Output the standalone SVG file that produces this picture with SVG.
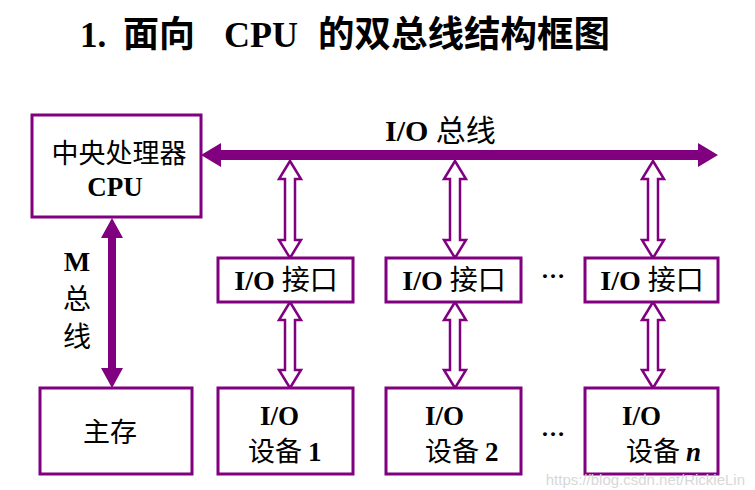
<svg xmlns="http://www.w3.org/2000/svg" width="755" height="490" viewBox="0 0 755 490">
<style>
.box{fill:#fff;stroke:#800080;stroke-width:3}
.bus{fill:#800080}
.ha{fill:#fff;stroke:#800080;stroke-width:2.5;stroke-linejoin:miter}
.t{font-family:"Liberation Serif","Noto Sans CJK SC",serif;font-weight:bold;fill:#000}
.c{font-family:"Noto Sans CJK SC",sans-serif;fill:#000}
</style>
<rect width="755" height="490" fill="#fff"/>
<g id="title">
<text class="t" x="80" y="47" font-size="35">1.</text>
<text class="c" x="123" y="47" font-size="36" font-weight="bold">面向</text>
<text class="t" x="224" y="47" font-size="36">CPU</text>
<text class="c" x="318" y="47" font-size="36.5" font-weight="bold">的双总线结构框图</text>
</g>
<g id="connectors">
<polygon class="bus" points="201,155 221,143 221,150 698,150 698,143 718,155 698,167 698,160 221,160 221,167"/>
<polygon class="bus" points="112,218 123,238 116,238 116,368 123,368 112,388 101,368 108,368 108,238 101,238"/>
<polygon class="ha" points="290,161 301,179 295,179 295,240 301,240 290,258 279,240 285,240 285,179 279,179"/>
<polygon class="ha" points="455,161 466,179 460,179 460,240 466,240 455,258 444,240 450,240 450,179 444,179"/>
<polygon class="ha" points="653,161 664,179 658,179 658,240 664,240 653,258 642,240 648,240 648,179 642,179"/>
<polygon class="ha" points="290,302 301,320 295,320 295,370 301,370 290,388 279,370 285,370 285,320 279,320"/>
<polygon class="ha" points="455,302 466,320 460,320 460,370 466,370 455,388 444,370 450,370 450,320 444,320"/>
<polygon class="ha" points="653,302 664,320 658,320 658,370 664,370 653,388 642,370 648,370 648,320 642,320"/>
<text class="t" x="385" y="141" font-size="30">I/O <tspan class="c" font-weight="normal">总线</tspan></text>
<text class="t" x="77" y="271" font-size="28" text-anchor="middle">M</text>
<text class="c" x="77" y="309" font-size="28" text-anchor="middle">总</text>
<text class="c" x="77" y="347" font-size="28" text-anchor="middle">线</text>
</g>
<g id="cpu">
<rect class="box" x="32" y="115" width="169" height="102"/>
<text class="c" x="119" y="163" font-size="27" text-anchor="middle">中央处理器</text>
<text class="t" x="115" y="196" font-size="27" text-anchor="middle">CPU</text>
</g>
<g id="mem">
<rect class="box" x="40" y="388" width="152" height="86"/>
<text class="c" x="110" y="442" font-size="27" text-anchor="middle">主存</text>
</g>
<g id="if1">
<rect class="box" x="218" y="258" width="135" height="44"/>
<text class="t" x="286" y="290" font-size="28" text-anchor="middle">I/O <tspan class="c" font-weight="normal">接口</tspan></text>
</g>
<g id="if2">
<rect class="box" x="386" y="258" width="135" height="44"/>
<text class="t" x="454" y="290" font-size="28" text-anchor="middle">I/O <tspan class="c" font-weight="normal">接口</tspan></text>
</g>
<g id="ifn">
<rect class="box" x="585" y="258" width="133" height="44"/>
<text class="t" x="652" y="290" font-size="28" text-anchor="middle">I/O <tspan class="c" font-weight="normal">接口</tspan></text>
</g>
<g id="dev1">
<rect class="box" x="218" y="388" width="135" height="86"/>
<text class="t" x="260" y="425" font-size="27">I/O</text>
<text class="c" x="248" y="461" font-size="27">设备 <tspan class="t">1</tspan></text>
</g>
<g id="dev2">
<rect class="box" x="386" y="388" width="135" height="86"/>
<text class="t" x="425" y="425" font-size="27">I/O</text>
<text class="c" x="425" y="461" font-size="27">设备 <tspan class="t">2</tspan></text>
</g>
<g id="devn">
<rect class="box" x="585" y="388" width="133" height="86"/>
<text class="t" x="622" y="425" font-size="27">I/O</text>
<text class="c" x="626" y="461" font-size="27">设备 <tspan class="t" font-style="italic">n</tspan></text>
</g>
<g id="dots">
<text class="t" x="553" y="278" font-size="24" text-anchor="middle">…</text>
<text class="t" x="553" y="436" font-size="24" text-anchor="middle">…</text>
</g>
<text x="745" y="485" font-size="15" text-anchor="end" fill="#d8d8d8" font-family="Liberation Sans,sans-serif">https://blog.csdn.net/RickieLin</text>
</svg>
